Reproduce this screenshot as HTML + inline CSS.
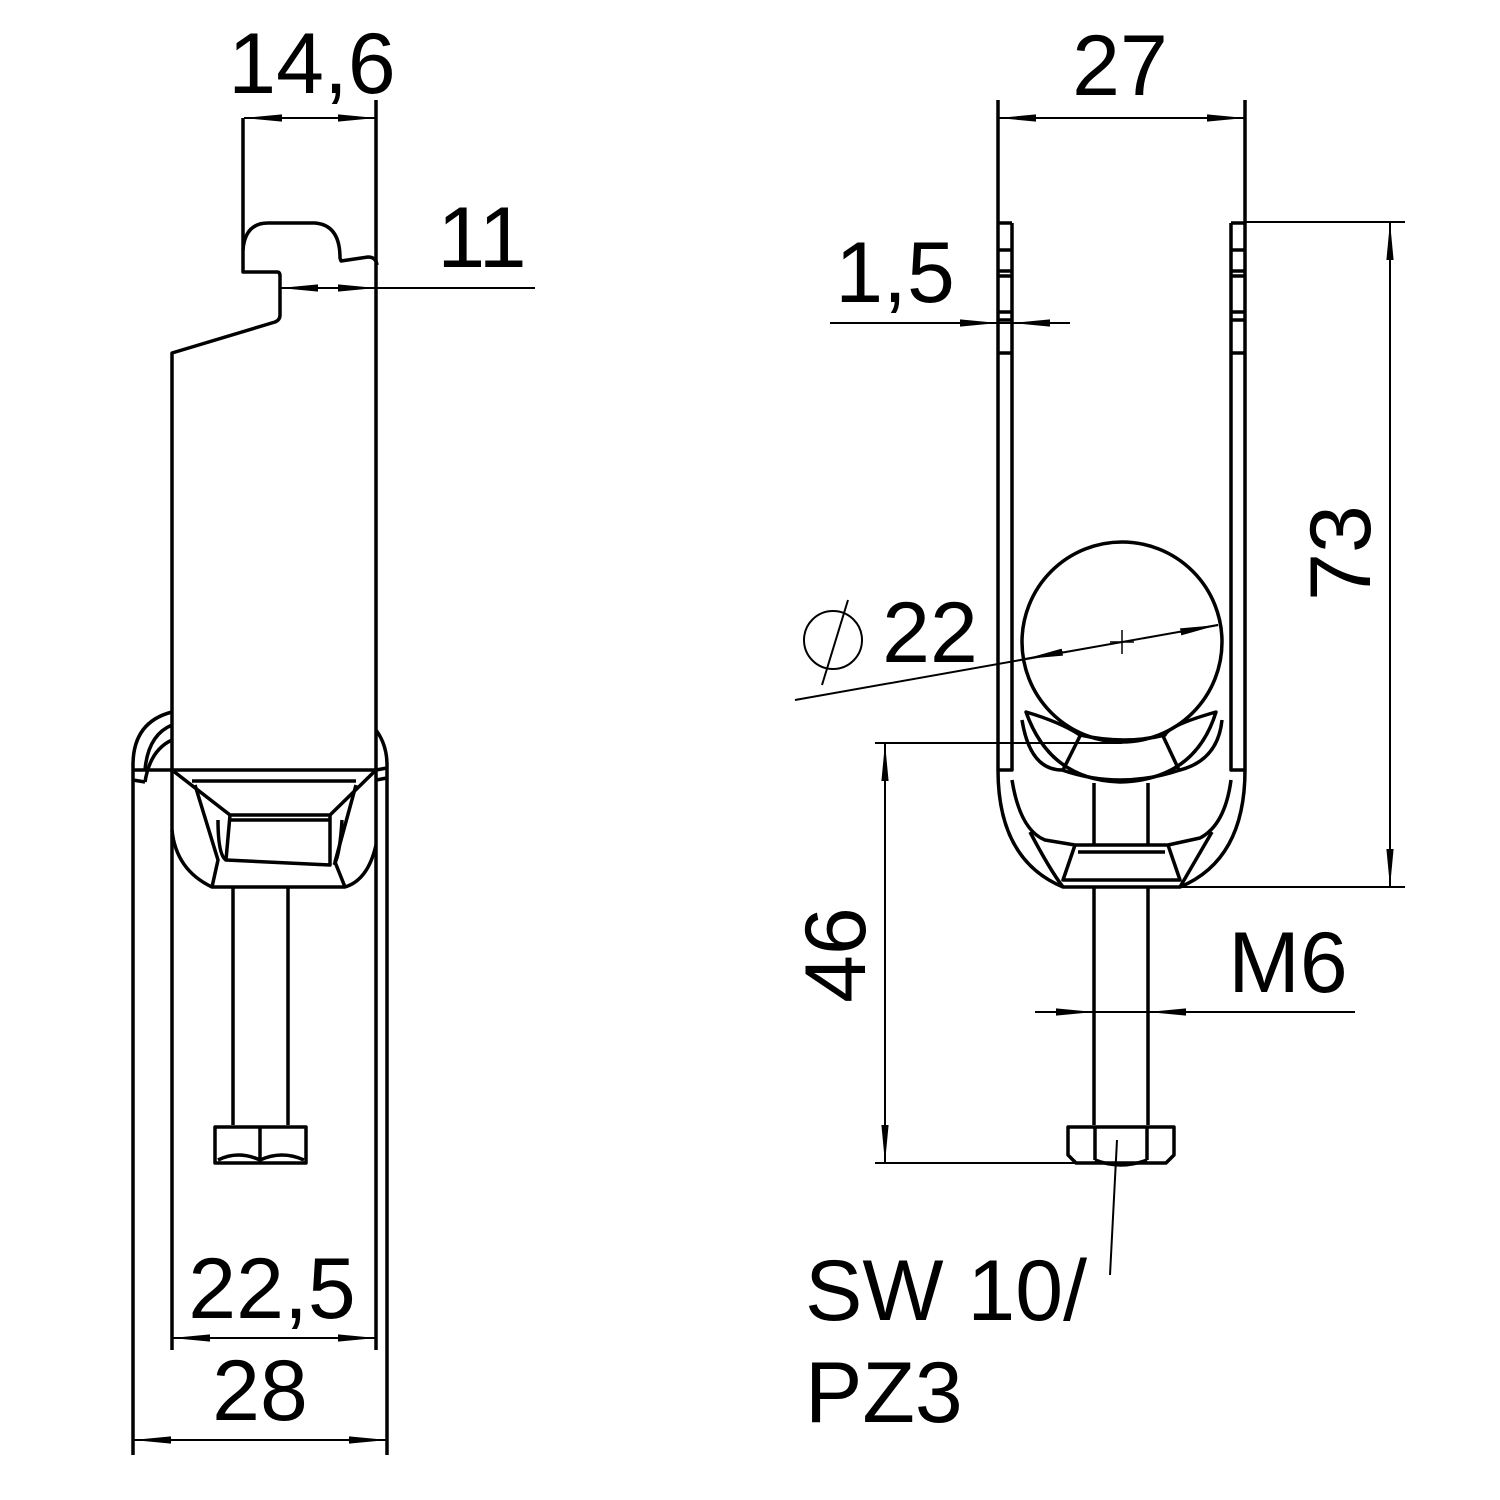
<!DOCTYPE html>
<html><head><meta charset="utf-8"><style>body{margin:0;background:#fff}svg{display:block}</style></head><body>
<svg width="1500" height="1500" viewBox="0 0 1500 1500" xmlns="http://www.w3.org/2000/svg" font-family="Liberation Sans, sans-serif">
<defs>
<marker id="a" viewBox="0 0 10 10" refX="10" refY="5" markerWidth="38" markerHeight="12" markerUnits="userSpaceOnUse" orient="auto-start-reverse" preserveAspectRatio="none"><path d="M0,2 L10,5 L0,8 Z" fill="#000"/></marker>
</defs>
<g fill="none" stroke="#000" stroke-width="3.5" stroke-linejoin="round">
<!-- LEFT VIEW -->
<path d="M243,118 L243,272 L277,272 Q280,272 280,276 L280,315 Q280,320 275,322 L172,353 L172,1350"/>
<path d="M243,250 Q245,223 268,223 L315,223 Q340,225 340,258 L341,261 L368,257 Q376,257 377,265"/>
<line x1="376" y1="118" x2="376" y2="1350"/>
<path d="M133,1455 L133,765 Q133,722 172,712"/>
<path d="M145,770 Q148,735 172,725"/>
<path d="M145,782 Q150,750 172,740"/>
<line x1="133" y1="770" x2="172" y2="770"/><line x1="133" y1="780" x2="145" y2="782"/>
<path d="M387,1455 L387,765 Q387,745 376,730"/>
<line x1="376" y1="770" x2="387" y2="768"/><line x1="376" y1="780" x2="387" y2="778"/>
<line x1="172" y1="770" x2="376" y2="770"/>
<line x1="192" y1="781" x2="356" y2="781"/>
<path d="M172,770 L230,815 L330,815 L376,770"/>
<line x1="230" y1="820" x2="330" y2="820"/>
<path d="M230,815 L226,860 L330,865 L330,815"/>
<path d="M218,820 Q218,855 226,860"/>
<path d="M342,820 Q340,855 334,865"/>
<path d="M172,830 Q176,870 212,887 L345,887 Q368,880 376,845"/>
<path d="M195,785 L218,860 L212,887"/><path d="M356,785 L335,862 L345,887"/>
<line x1="233" y1="887" x2="233" y2="1125"/><line x1="288" y1="887" x2="288" y2="1125"/>
<rect x="215" y="1127" width="91" height="36"/>
<line x1="260" y1="1127" x2="260" y2="1163"/>
<path d="M218,1160 Q238,1150 260,1160 Q282,1150 304,1160"/>
<!-- left dims -->
<line x1="376" y1="100" x2="376" y2="118"/>
<line x1="244" y1="118" x2="376" y2="118" stroke-width="2" marker-start="url(#a)" marker-end="url(#a)"/>
<line x1="280" y1="288" x2="535" y2="288" stroke-width="2"/>
<line x1="318" y1="288" x2="280" y2="288" stroke-width="2" marker-end="url(#a)"/>
<line x1="338" y1="288" x2="376" y2="288" stroke-width="2" marker-end="url(#a)"/>
<line x1="172" y1="1338" x2="376" y2="1338" stroke-width="2" marker-start="url(#a)" marker-end="url(#a)"/>
<line x1="133" y1="1440" x2="387" y2="1440" stroke-width="2" marker-start="url(#a)" marker-end="url(#a)"/>
<!-- RIGHT VIEW -->
<path d="M998,100 L998,770 Q998,860 1063,887 L1180,887 Q1245,860 1245,770 L1245,100"/>
<path d="M1012,223 L1012,770 L998,770 M998,223 L1012,223"/>
<path d="M1231,223 L1231,770 L1245,770 M1231,223 L1245,223"/>
<path d="M998,250H1012M998,271H1012M998,276H1012M998,312H1012M998,320H1012M998,353H1012"/>
<path d="M1231,250H1245M1231,271H1245M1231,276H1245M1231,312H1245M1231,320H1245M1231,353H1245"/>
<circle cx="1122" cy="642" r="100"/>
<path d="M1026,712 Q1050,780 1120,782 Q1195,780 1216,712 Q1170,725 1165,735 Q1125,745 1080,735 Q1060,722 1026,712 Z"/>
<path d="M1022,720 Q1030,770 1062,770 Q1120,790 1180,770 Q1218,760 1222,720"/>
<line x1="1080" y1="736" x2="1063" y2="770"/><line x1="1163" y1="736" x2="1179" y2="770"/>
<line x1="1094" y1="783" x2="1094" y2="845"/><line x1="1148" y1="783" x2="1148" y2="845"/>
<path d="M1012,780 Q1020,830 1045,840 L1075,845 L1168,845 L1200,838 Q1225,825 1231,780"/>
<path d="M1030,832 Q1050,870 1063,887 M1212,832 Q1190,870 1180,887"/>
<path d="M1075,845 L1063,880 L1180,880 L1168,845"/>
<line x1="1078" y1="852" x2="1165" y2="852"/>
<line x1="1094" y1="887" x2="1094" y2="1125"/><line x1="1148" y1="887" x2="1148" y2="1125"/>
<path d="M1068,1127 L1174,1127 L1174,1155 L1166,1163 L1076,1163 L1068,1155 Z"/>
<line x1="1095" y1="1127" x2="1095" y2="1160"/><line x1="1147" y1="1127" x2="1147" y2="1160"/>
<path d="M1095,1160 Q1121,1170 1147,1160"/>
<!-- right dims -->
<line x1="998" y1="118" x2="1245" y2="118" stroke-width="2" marker-start="url(#a)" marker-end="url(#a)"/>
<line x1="830" y1="323" x2="1070" y2="323" stroke-width="2"/>
<line x1="960" y1="323" x2="998" y2="323" stroke-width="2" marker-end="url(#a)"/>
<line x1="1050" y1="323" x2="1012" y2="323" stroke-width="2" marker-end="url(#a)"/>
<line x1="1245" y1="222" x2="1405" y2="222" stroke-width="2"/>
<line x1="1180" y1="887" x2="1405" y2="887" stroke-width="2"/>
<line x1="1390" y1="222" x2="1390" y2="887" stroke-width="2" marker-start="url(#a)" marker-end="url(#a)"/>
<line x1="875" y1="743" x2="1122" y2="743" stroke-width="2"/>
<line x1="875" y1="1163" x2="1100" y2="1163" stroke-width="2"/>
<line x1="885" y1="743" x2="885" y2="1163" stroke-width="2" marker-start="url(#a)" marker-end="url(#a)"/>
<line x1="1035" y1="1012" x2="1355" y2="1012" stroke-width="2"/>
<line x1="1056" y1="1012" x2="1094" y2="1012" stroke-width="2" marker-end="url(#a)"/>
<line x1="1186" y1="1012" x2="1148" y2="1012" stroke-width="2" marker-end="url(#a)"/>
<line x1="795" y1="700" x2="1218" y2="625" stroke-width="2"/>
<line x1="1063" y1="652" x2="1025" y2="659" stroke-width="2" marker-end="url(#a)"/>
<line x1="1180" y1="632" x2="1218" y2="625" stroke-width="2" marker-end="url(#a)"/>
<path d="M1122,630V654M1110,642H1134" stroke-width="1.5"/>
<circle cx="833" cy="640" r="29" stroke-width="2"/>
<line x1="848" y1="600" x2="822" y2="685" stroke-width="2"/>
<line x1="1117" y1="1140" x2="1110" y2="1275" stroke-width="2"/>
</g>
<g fill="#000" font-size="86">
<text x="312" y="93" text-anchor="middle">14,6</text>
<text x="482" y="267" text-anchor="middle">11</text>
<text x="272" y="1318" text-anchor="middle">22,5</text>
<text x="260" y="1420" text-anchor="middle">28</text>
<text x="1120" y="95" text-anchor="middle">27</text>
<text x="895" y="302" text-anchor="middle">1,5</text>
<text x="930" y="662" text-anchor="middle">22</text>
<text x="1288" y="992" text-anchor="middle">M6</text>
<text x="805" y="1320">SW 10/</text>
<text x="805" y="1422">PZ3</text>
<text transform="translate(1370,553) rotate(-90)" text-anchor="middle">73</text>
<text transform="translate(865,955) rotate(-90)" text-anchor="middle">46</text>
</g>
</svg>
</body></html>
